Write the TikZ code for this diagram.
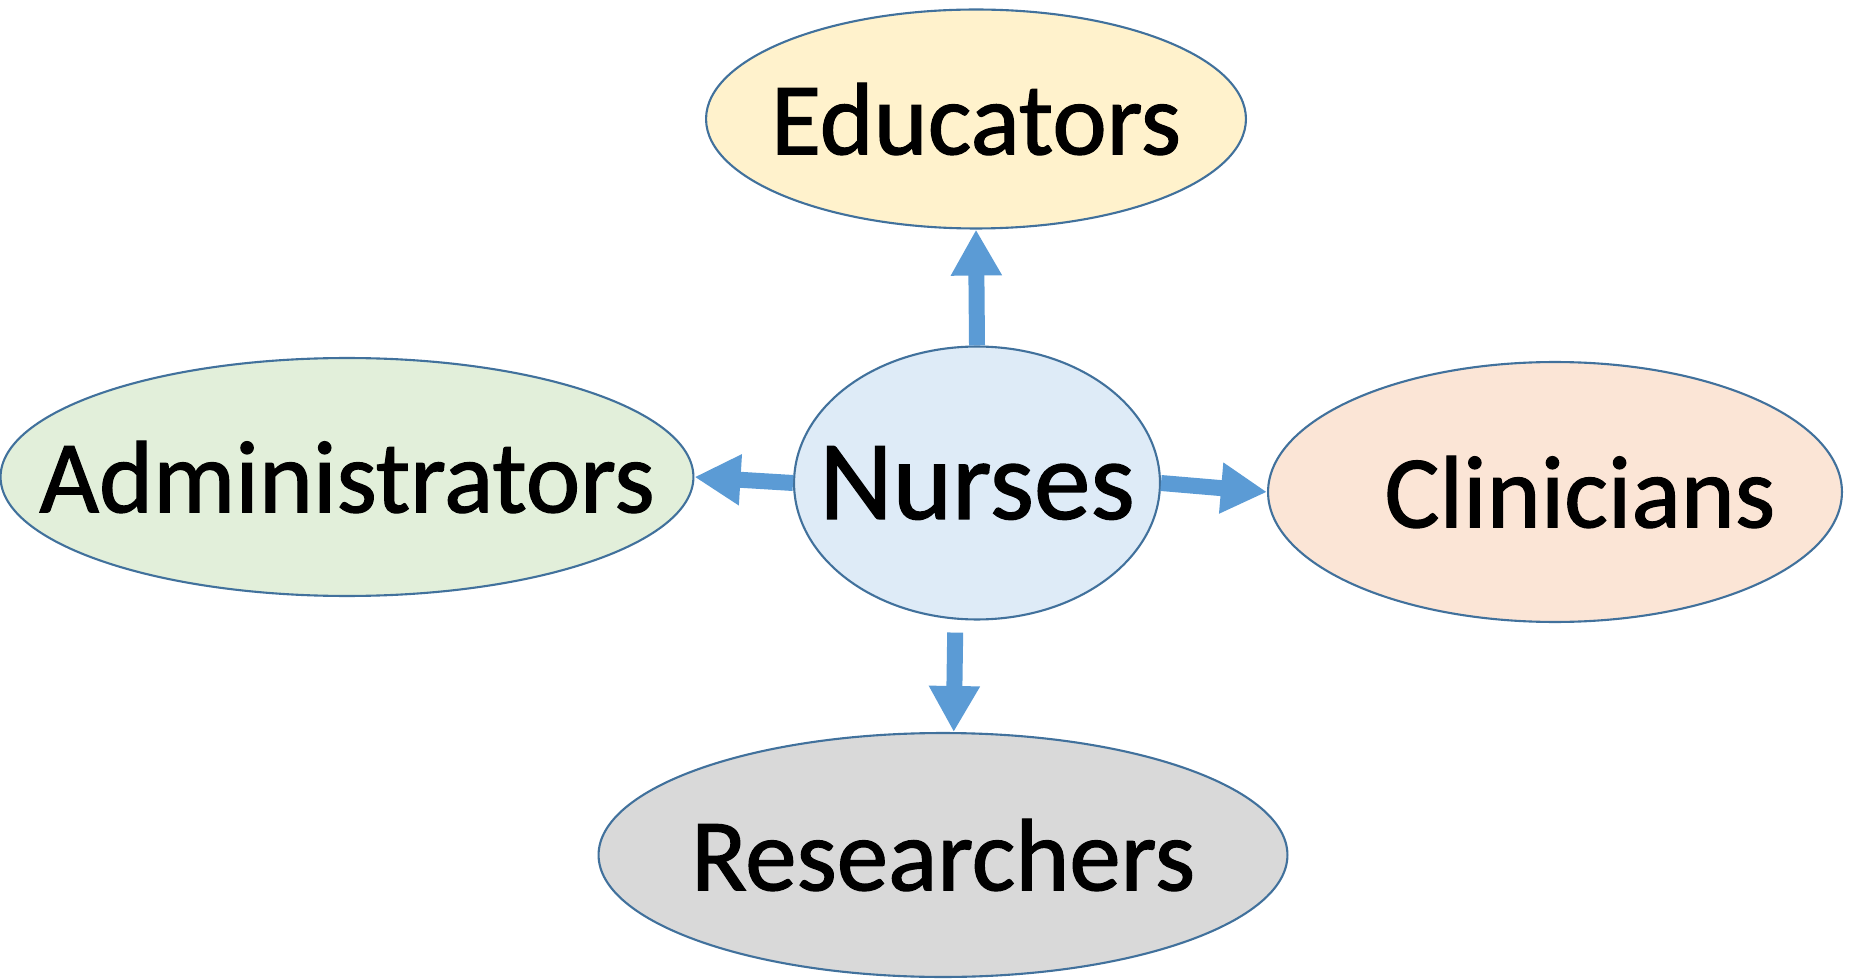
\documentclass[tikz,border=0pt]{standalone}
\usepackage{fontspec}
\setmainfont[UprightFeatures={FakeBold=1.2}]{Carlito}
\usetikzlibrary{shapes.geometric,arrows.meta}
\definecolor{rimblue}{HTML}{41719C}
\definecolor{arrowblue}{HTML}{5B9BD5}
\definecolor{eduyellow}{HTML}{FFF2CC}
\definecolor{admgreen}{HTML}{E2EFDA}
\definecolor{nurblue}{HTML}{DEEBF7}
\definecolor{clinorange}{HTML}{FBE5D6}
\definecolor{resgrey}{HTML}{D9D9D9}
\begin{document}
\begin{tikzpicture}[x=0.02cm,y=-0.02cm]
  \tikzstyle{every node}=[font=\fontsize{58.6}{60}\selectfont]
  \tikzstyle{role}=[ellipse,draw=rimblue,line width=1.2pt,inner sep=0pt]
  \tikzstyle{link}=[draw=arrowblue,line width=9.1pt,-{Triangle[width=27.3pt,length=26.2pt]}]
 \useasboundingbox (0,0) rectangle (1855,979);
 \node[role,fill=eduyellow,minimum width=10.8cm,minimum height=4.38cm] (edu) at (976,119) {\makebox[0pt]{Educators}};
 \node[role,fill=admgreen,minimum width=13.86cm,minimum height=4.76cm] (adm) at (347,477) {\makebox[0pt]{Administrators}};
 \node[role,fill=nurblue,minimum width=7.32cm,minimum height=5.46cm,font=\fontsize{64.5}{66}\selectfont] (nur) at (977,483) {\makebox[0pt]{Nurses}};
 \node[role,fill=clinorange,minimum width=11.48cm,minimum height=5.2cm] (clin) at (1555,492) {\makebox[0pt]{\hspace{1cm}Clinicians}};
 \node[role,fill=resgrey,minimum width=13.78cm,minimum height=4.88cm] (res) at (943,855) {\makebox[0pt]{Researchers}};

 \draw [link] (nur.north) -- (edu.south);
 \draw [link] (nur.west) -- (adm.east);
 \draw [link] (nur.east) -- (clin.west);
 \draw [link,shorten <=7.4pt] (nur.-99) -- (res.85);

\end{tikzpicture}
\end{document}
